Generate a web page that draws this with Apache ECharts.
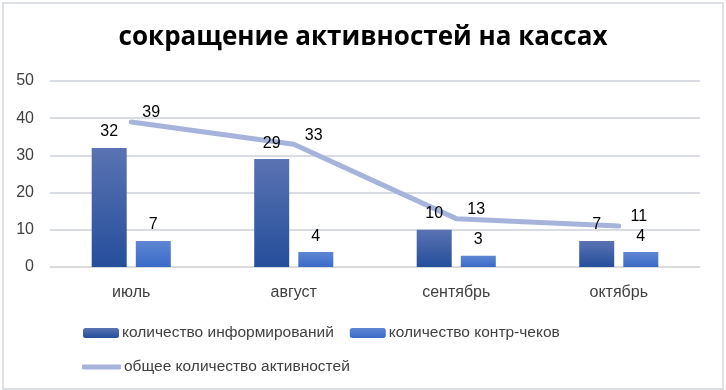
<!DOCTYPE html>
<html><head><meta charset="utf-8">
<script src="https://cdn.jsdelivr.net/npm/echarts@6/dist/echarts.min.js"></script>
<style>
html,body{margin:0;padding:0;background:#fff;width:726px;height:390px;overflow:hidden;}
#frame{position:absolute;left:2px;top:2px;width:718px;height:384px;border:2px solid #dde1e6;box-sizing:content-box;}
#c{position:absolute;left:0;top:0;width:726px;height:390px;}
</style></head>
<body>
<div id="frame"></div>
<div id="c"></div>
<script>
const titleText = 'сокращение активностей на кассах';
const categories = ['июль', 'август', 'сентябрь', 'октябрь'];
const informValues = [32, 29, 10, 7];
const checksValues = [7, 4, 3, 4];
const totalValues = [39, 33, 13, 11];
const seriesNames = ['количество информирований', 'количество контр-чеков', 'общее количество активностей'];
const yTicks = [0, 10, 20, 30, 40, 50];

const chart = echarts.init(document.getElementById('c'), null, {renderer: 'canvas'});
const FONT = 'Liberation Sans, Arial, sans-serif';
const TXT = '#404040';
chart.setOption({
  animation: false,
  backgroundColor: 'transparent',
  title: {
    text: titleText, left: 'center', top: 20,
    textStyle: {fontFamily: 'Open Sans, sans-serif', fontWeight: 'bold', fontSize: 26, color: '#000'}
  },
  grid: {left: 50, right: 26, top: 81, bottom: 123, containLabel: false},
  legend: [
    {data: [seriesNames[0], seriesNames[1]], left: 78, top: 320, itemWidth: 36, itemHeight: 10, itemGap: 16,
     textStyle: {fontFamily: FONT, fontSize: 15.5, color: TXT, padding: [0,0,0,-2]}},
    {data: [{name: seriesNames[2], icon: 'roundRect'}], left: 77, top: 354, itemWidth: 39, itemHeight: 5,
     textStyle: {fontFamily: FONT, fontSize: 15.5, color: TXT, padding: [0,0,0,-2]}}
  ],
  xAxis: {
    type: 'category', data: categories,
    axisLine: {show: true, lineStyle: {color: '#d9d9d9', width: 1}},
    axisTick: {show: false},
    axisLabel: {fontFamily: FONT, fontSize: 16, color: TXT, margin: 18}
  },
  yAxis: {
    type: 'value', min: yTicks[0], max: yTicks[yTicks.length-1], interval: 10,
    axisLine: {show: false}, axisTick: {show: false},
    axisLabel: {fontFamily: FONT, fontSize: 16, color: TXT, margin: 16},
    splitLine: {lineStyle: {color: '#d9dde3', width: 2}}
  },
  series: [
    {name: seriesNames[0], type: 'bar', data: informValues, barWidth: 35, barGap: '26%', z: 3,
     itemStyle: {color: new echarts.graphic.LinearGradient(0,0,0,1,[{offset:0,color:'#5a73b2'},{offset:1,color:'#254e9b'}])},
     label: {show: true, position: 'top', distance: 8, fontFamily: FONT, fontSize: 16, color: '#000'}},
    {name: seriesNames[1], type: 'bar', data: checksValues, barWidth: 35, z: 3,
     itemStyle: {color: new echarts.graphic.LinearGradient(0,0,0,1,[{offset:0,color:'#5f86d3'},{offset:1,color:'#3a6bc8'}])},
     label: {show: true, position: 'top', distance: 8, fontFamily: FONT, fontSize: 16, color: '#000'}},
    {name: seriesNames[2], type: 'line', data: totalValues, symbol: 'circle', symbolSize: 0, showSymbol: true, z: 2,
     lineStyle: {color: '#a6b4dc', width: 5, cap: 'round'},
     itemStyle: {color: '#a6b4dc'},
     labelLayout: {hideOverlap: false, dx: 20, dy: 4},
     label: {show: true, position: 'top', fontFamily: FONT, fontSize: 16, color: '#000'}}
  ]
});
</script>
</body></html>
